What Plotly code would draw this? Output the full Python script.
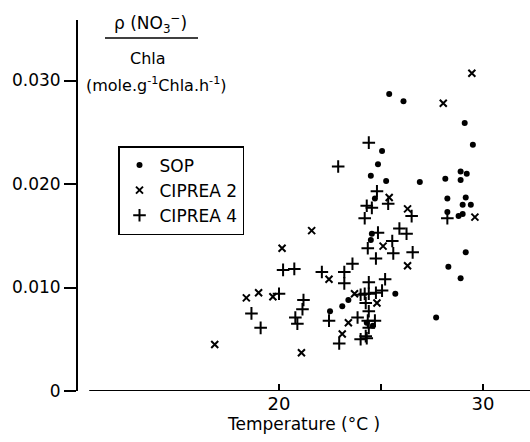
import plotly.graph_objects as go

# ---- data ----
sop_t = [25.4, 26.1, 29.1, 29.5, 25.05, 24.85, 24.5, 25.25, 26.9, 28.15, 28.9, 29.2, 28.9,
         28.25, 29.15, 29.0, 29.4, 28.25, 28.8, 29.0, 24.7, 29.15, 28.3, 28.9, 25.7, 27.7,
         22.5, 23.1, 23.4, 24.55, 24.5, 24.3, 24.6]
sop_v = [0.0287, 0.0280, 0.0259, 0.0238, 0.0232, 0.0219, 0.0208, 0.0203, 0.0202, 0.0205, 0.0212,
         0.0210, 0.0204, 0.0186, 0.0187, 0.0180, 0.0180, 0.0173, 0.0169, 0.0171, 0.0186, 0.0134,
         0.0120, 0.0109, 0.0094, 0.0071, 0.0077, 0.0082, 0.0088, 0.0152, 0.0146, 0.0066, 0.0063]

c2_t = [29.45, 28.05, 25.4, 26.3, 29.6, 26.3, 25.1, 21.6, 20.15, 22.45, 18.4, 19.0, 19.7,
        23.7, 23.1, 23.4, 24.8, 16.85, 21.1]
c2_v = [0.0307, 0.0278, 0.0187, 0.0176, 0.0168, 0.0121, 0.0140, 0.0155, 0.0138, 0.0108, 0.0090,
        0.0095, 0.0091, 0.0094, 0.0055, 0.0066, 0.0085, 0.0045, 0.0037]

c4_t = [24.4, 22.9, 24.8, 24.3, 24.55, 24.2, 24.35, 24.85, 20.2, 20.75, 22.1, 23.6, 23.2, 23.2,
        20.0, 21.2, 21.15, 20.8, 20.9, 18.65, 19.1, 24.4, 24.4, 24.75, 23.85, 24.35, 22.45,
        24.75, 24.4, 24.3, 22.95, 24.0, 24.25, 24.0, 24.2, 24.25, 24.7, 24.4, 25.35, 26.5,
        28.25, 25.9, 26.25, 25.55, 25.6, 26.55, 25.2, 25.05]
c4_v = [0.0240, 0.0217, 0.0193, 0.0179, 0.0177, 0.0167, 0.0138, 0.0153, 0.0117, 0.0118, 0.0115,
        0.0123, 0.0115, 0.0104, 0.0094, 0.0088, 0.0079, 0.0071, 0.0065, 0.0075, 0.0061, 0.0105,
        0.0094, 0.0095, 0.0071, 0.0068, 0.0068, 0.0128, 0.0077, 0.0051, 0.0046, 0.0050, 0.0053,
        0.0093, 0.0094, 0.0085, 0.0068, 0.0061, 0.0181, 0.0169, 0.0167, 0.0157, 0.0152, 0.0145,
        0.0133, 0.0134, 0.0108, 0.0097]

y_ticks = [0, 0.010, 0.020, 0.030]
y_tick_text = ["0", "0.010", "0.020", "0.030"]
x_ticks = [20, 25, 30]
x_tick_text = ["20", "", "30"]

FONT = "DejaVu Sans"
W, H = 530, 442
L, R, T, B = 78, 0, 20, 51
PW, PH = W - L - R, H - T - B


def px(x):
    return (x - L) / PW


def py(y):
    return (H - B - y) / PH


fig = go.Figure()
fig.add_trace(go.Scatter(x=sop_t, y=sop_v, mode="markers", name="SOP",
                         marker=dict(symbol="circle", size=6, color="black")))
fig.add_trace(go.Scatter(x=c2_t, y=c2_v, mode="markers", name="CIPREA 2",
                         marker=dict(symbol="x-thin", size=7, color="black",
                                     line=dict(width=2, color="black"))))
fig.add_trace(go.Scatter(x=c4_t, y=c4_v, mode="markers", name="CIPREA 4",
                         marker=dict(symbol="cross-thin", size=9, color="black",
                                     line=dict(width=2, color="black"))))

# detached x axis line
fig.add_shape(type="line", xref="x", yref="y", x0=10.7, x1=32.3, y0=0, y1=0,
              line=dict(color="black", width=2))

fig.update_layout(
    width=W, height=H,
    margin=dict(l=L, r=R, t=T, b=B),
    paper_bgcolor="white", plot_bgcolor="white",
    font=dict(family=FONT, color="black", size=15),
    showlegend=True,
    legend=dict(x=px(118), y=py(146), xanchor="left", yanchor="top",
                bordercolor="black", borderwidth=1.5, bgcolor="white",
                font=dict(size=17, family=FONT), tracegroupgap=0,
                itemsizing="trace", itemwidth=30),
    xaxis=dict(range=[10.15, 32.3], showgrid=False, zeroline=False, showline=False,
               automargin=False,
               tickvals=x_ticks, ticktext=x_tick_text, ticks="inside", ticklen=7,
               tickwidth=1.5, tickcolor="black", tickfont=dict(size=18),
               title=dict(text="Temperature (°C )", font=dict(size=17), standoff=5)),
    yaxis=dict(range=[0, 0.03585], showgrid=False, zeroline=False, showline=True,
               automargin=False,
               linecolor="black", linewidth=2, tickvals=y_ticks, ticktext=y_tick_text,
               ticks="outside", ticklen=12, tickwidth=1.5, tickcolor="black",
               tickfont=dict(size=17)),
)

ann = [
    dict(text="ρ (NO<sub>3</sub><sup>−</sup>)", x=px(150), y=py(24), size=17),
    dict(text="Chla", x=px(148), y=py(58), size=16),
    dict(text="(mole.g<sup>-1</sup>Chla.h<sup>-1</sup>)", x=px(156), y=py(85), size=16),
]
for a in ann:
    fig.add_annotation(text=a["text"], x=a["x"], y=a["y"], xref="paper", yref="paper",
                       showarrow=False, xanchor="center", yanchor="middle",
                       font=dict(size=a["size"], family=FONT, color="black"))
# fraction bar
fig.add_shape(type="line", xref="paper", yref="paper", x0=px(105), x1=px(198),
              y0=py(38), y1=py(38), line=dict(color="black", width=1.5))

fig.write_html("out.html", config={"displayModeBar": False},
               post_script="document.body.style.margin='0px';")
